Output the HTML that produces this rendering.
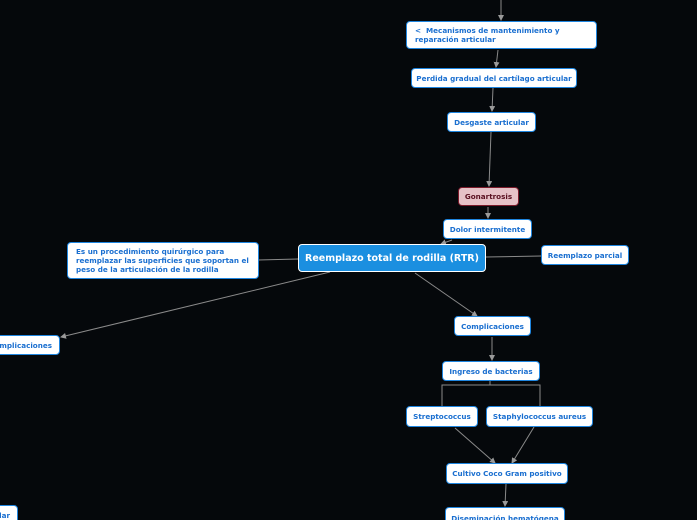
<!DOCTYPE html>
<html><head><meta charset="utf-8"><style>
html,body{margin:0;padding:0;width:697px;height:520px;overflow:hidden;}
body{background:#05080b;position:relative;font-family:"DejaVu Sans","Liberation Sans",sans-serif;}
.n{position:absolute;box-sizing:border-box;background:#fff;border:1.5px solid #1f86e0;border-radius:4px;color:#1a6fd0;font-weight:bold;font-size:7.2px;display:flex;align-items:center;justify-content:center;white-space:nowrap;}
.l{justify-content:flex-start;padding-left:8px;white-space:normal;line-height:9px;}
svg{position:absolute;left:0;top:0;}
</style></head><body>
<svg width="697" height="520"><defs><marker id="a" markerWidth="6" markerHeight="6" refX="5" refY="3" orient="auto"><path d="M0,0L6,3L0,6z" fill="#9a9a9a"/></marker></defs>
<g stroke="#8a8a8a" stroke-width="1" fill="none">
<line x1="501" y1="0" x2="501" y2="20" marker-end="url(#a)"/>
<line x1="498" y1="50" x2="496" y2="67" marker-end="url(#a)"/>
<line x1="493" y1="88" x2="492" y2="111" marker-end="url(#a)"/>
<line x1="491" y1="132" x2="489" y2="186" marker-end="url(#a)"/>
<line x1="488" y1="207" x2="488" y2="218" marker-end="url(#a)"/>
<line x1="452" y1="240" x2="441" y2="244" marker-end="url(#a)"/>
<line x1="486" y1="257" x2="541" y2="256"/>
<line x1="298" y1="259" x2="258" y2="260"/>
<line x1="330" y1="272" x2="61" y2="337" marker-end="url(#a)"/>
<line x1="415" y1="273" x2="477" y2="316" marker-end="url(#a)"/>
<line x1="492" y1="337" x2="492" y2="360" marker-end="url(#a)"/>
<polyline points="490,381 490,385 442,385 442,406"/>
<polyline points="490,385 540,385 540,406"/>
<line x1="455" y1="428" x2="495" y2="463" marker-end="url(#a)"/>
<line x1="534" y1="427" x2="512" y2="463" marker-end="url(#a)"/>
<line x1="506" y1="484" x2="505" y2="506" marker-end="url(#a)"/>
</g></svg>
<div class="n l" style="left:406px;top:21px;width:191px;height:28px;">&lt;&nbsp; Mecanismos de mantenimiento y reparación articular</div>
<div class="n" style="left:411px;top:68px;width:166px;height:20px;">Perdida gradual del cartílago articular</div>
<div class="n" style="left:447px;top:112px;width:89px;height:20px;">Desgaste articular</div>
<div class="n" style="left:458px;top:187px;width:61px;height:19px;background:#e6c2c7;border-color:#7a1a2a;color:#5a1020;">Gonartrosis</div>
<div class="n" style="left:443px;top:219px;width:89px;height:20px;">Dolor intermitente</div>
<div class="n" style="left:298px;top:244px;width:188px;height:28px;background:#1b8fe0;border-color:#fff;color:#fff;font-size:9.5px;">Reemplazo total de rodilla (RTR)</div>
<div class="n" style="left:541px;top:245px;width:88px;height:20px;">Reemplazo parcial</div>
<div class="n l" style="left:67px;top:242px;width:192px;height:37px;">Es un procedimiento quirúrgico para reemplazar las superficies que soportan el peso de la articulación de la rodilla</div>
<div class="n" style="left:-20px;top:335px;width:80px;height:20px;justify-content:flex-end;padding-right:7px;">Implicaciones</div>
<div class="n" style="left:454px;top:316px;width:77px;height:20px;">Complicaciones</div>
<div class="n" style="left:442px;top:361px;width:98px;height:20px;">Ingreso de bacterias</div>
<div class="n" style="left:406px;top:406px;width:72px;height:21px;">Streptococcus</div>
<div class="n" style="left:486px;top:406px;width:107px;height:21px;">Staphylococcus aureus</div>
<div class="n" style="left:446px;top:463px;width:122px;height:21px;">Cultivo Coco Gram positivo</div>
<div class="n" style="left:445px;top:507px;width:120px;height:22px;align-items:flex-start;padding-top:6px;">Diseminación hematógena</div>
<div class="n" style="left:-40px;top:505px;width:58px;height:21px;justify-content:flex-end;padding-right:7px;">Articular</div>
</body></html>
